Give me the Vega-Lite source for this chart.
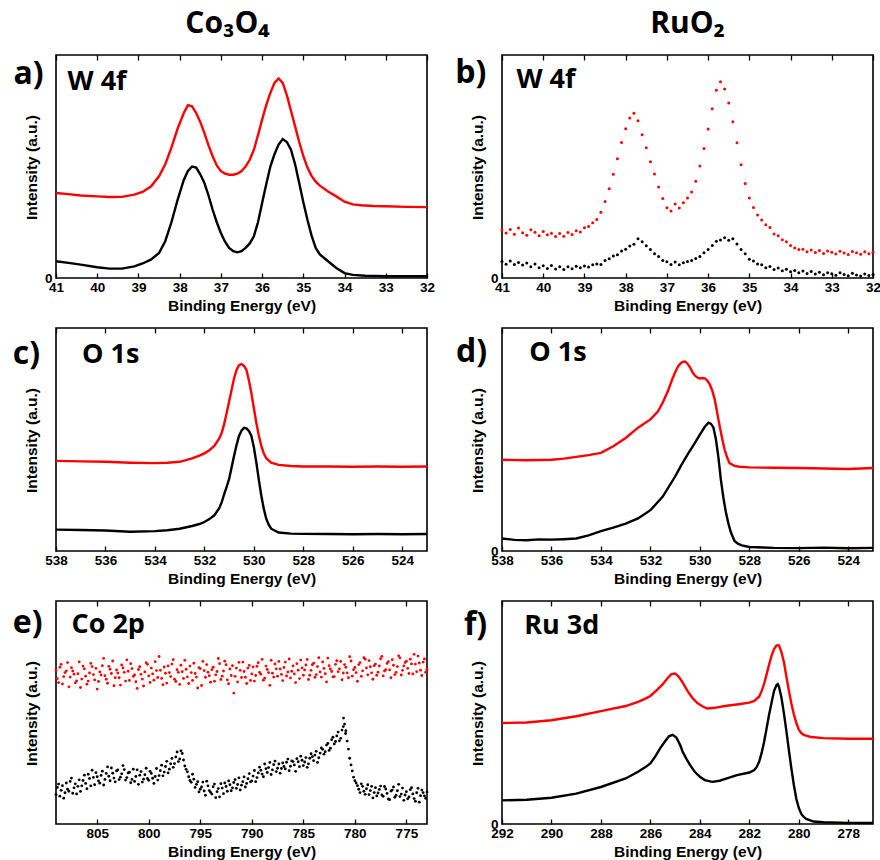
{
"$schema": "https://vega.github.io/schema/vega-lite/v6.json",
"background": "white",
"padding": {"left": 12, "top": 8, "right": 0, "bottom": 0},
"config": {
 "view": {"stroke": "#000", "strokeWidth": 1.6},
 "axis": {"grid": false, "domain": false, "labelFont": "Liberation Sans", "labelFontWeight": "bold", "labelFontSize": 13.5, "labelColor": "#000", "titleFont": "Liberation Sans", "titleFontWeight": "bold", "titleFontSize": 15.5, "titleColor": "#000", "tickColor": "#000", "tickWidth": 1.3, "labelFlush": false, "labelOverlap": false, "labelBound": false},
 "axisBottom": {"tickSize": -5, "labelPadding": 7, "titlePadding": 5},
 "axisTop": {"tickSize": -5, "labels": false},
 "axisLeft": {"ticks": false, "labelPadding": 4, "titleX": -17, "titleY": 112, "titleAngle": 270, "titleAlign": "center", "titleBaseline": "bottom"},
 "text": {"font": "Open Sans", "fontWeight": "bold", "color": "#000", "baseline": "alphabetic"}
},
"datasets": {
 "A": [
  {"s":"r","x":41.0,"y":38.1},{"s":"r","x":40.7,"y":37.6},{"s":"r","x":40.4,"y":37.0},{"s":"r","x":40.0,"y":36.6},{"s":"r","x":39.7,"y":36.3},{"s":"r","x":39.4,"y":36.4},{"s":"r","x":39.1,"y":37.4},{"s":"r","x":38.9,"y":38.6},{"s":"r","x":38.7,"y":41.0},{"s":"r","x":38.5,"y":45.6},{"s":"r","x":38.35,"y":51},{"s":"r","x":38.2,"y":58.5},{"s":"r","x":38.05,"y":67},{"s":"r","x":37.9,"y":74},{"s":"r","x":37.8,"y":77.5},{"s":"r","x":37.7,"y":77},{"s":"r","x":37.6,"y":74},{"s":"r","x":37.5,"y":70},{"s":"r","x":37.4,"y":65},{"s":"r","x":37.3,"y":59.5},{"s":"r","x":37.2,"y":54.6},{"s":"r","x":37.1,"y":50.5},{"s":"r","x":37.0,"y":47.9},{"s":"r","x":36.9,"y":46.8},{"s":"r","x":36.8,"y":46.3},{"s":"r","x":36.7,"y":46.3},{"s":"r","x":36.6,"y":46.8},{"s":"r","x":36.5,"y":48},{"s":"r","x":36.4,"y":50},{"s":"r","x":36.3,"y":53},{"s":"r","x":36.2,"y":57.5},{"s":"r","x":36.1,"y":64},{"s":"r","x":36.0,"y":71},{"s":"r","x":35.9,"y":77.5},{"s":"r","x":35.8,"y":83},{"s":"r","x":35.7,"y":87.5},{"s":"r","x":35.6,"y":89.5},{"s":"r","x":35.5,"y":87.5},{"s":"r","x":35.4,"y":82},{"s":"r","x":35.3,"y":75},{"s":"r","x":35.2,"y":68},{"s":"r","x":35.1,"y":61},{"s":"r","x":35.0,"y":54.6},{"s":"r","x":34.9,"y":49.5},{"s":"r","x":34.8,"y":45.8},{"s":"r","x":34.7,"y":43.2},{"s":"r","x":34.6,"y":41.4},{"s":"r","x":34.4,"y":38.8},{"s":"r","x":34.2,"y":36.6},{"s":"r","x":34.0,"y":34.2},{"s":"r","x":33.8,"y":33.0},{"s":"r","x":33.6,"y":32.6},{"s":"r","x":33.3,"y":32.3},{"s":"r","x":33.0,"y":32.2},{"s":"r","x":32.5,"y":31.9},{"s":"r","x":32.0,"y":31.8},
  {"s":"k","x":41.0,"y":7.5},{"s":"k","x":40.7,"y":6.8},{"s":"k","x":40.4,"y":6.0},{"s":"k","x":40.0,"y":4.8},{"s":"k","x":39.7,"y":4.2},{"s":"k","x":39.4,"y":4.2},{"s":"k","x":39.1,"y":5.2},{"s":"k","x":38.9,"y":6.5},{"s":"k","x":38.7,"y":8.2},{"s":"k","x":38.5,"y":11.2},{"s":"k","x":38.35,"y":16.5},{"s":"k","x":38.2,"y":25},{"s":"k","x":38.05,"y":35},{"s":"k","x":37.9,"y":44},{"s":"k","x":37.8,"y":48},{"s":"k","x":37.7,"y":50},{"s":"k","x":37.6,"y":49.5},{"s":"k","x":37.5,"y":46.5},{"s":"k","x":37.4,"y":42.6},{"s":"k","x":37.3,"y":37},{"s":"k","x":37.2,"y":30.6},{"s":"k","x":37.1,"y":25},{"s":"k","x":37.0,"y":20.2},{"s":"k","x":36.9,"y":16.3},{"s":"k","x":36.8,"y":13.5},{"s":"k","x":36.7,"y":12},{"s":"k","x":36.6,"y":11.5},{"s":"k","x":36.5,"y":12},{"s":"k","x":36.4,"y":13.5},{"s":"k","x":36.3,"y":15.5},{"s":"k","x":36.2,"y":18.7},{"s":"k","x":36.1,"y":25},{"s":"k","x":36.0,"y":33.6},{"s":"k","x":35.9,"y":42},{"s":"k","x":35.8,"y":50},{"s":"k","x":35.7,"y":55.5},{"s":"k","x":35.6,"y":59.8},{"s":"k","x":35.5,"y":62.3},{"s":"k","x":35.4,"y":61},{"s":"k","x":35.3,"y":57.5},{"s":"k","x":35.2,"y":51},{"s":"k","x":35.1,"y":42.6},{"s":"k","x":35.0,"y":34},{"s":"k","x":34.9,"y":26.1},{"s":"k","x":34.8,"y":19},{"s":"k","x":34.7,"y":13.5},{"s":"k","x":34.6,"y":10.6},{"s":"k","x":34.4,"y":7.5},{"s":"k","x":34.2,"y":4.5},{"s":"k","x":34.0,"y":2.2},{"s":"k","x":33.8,"y":1.4},{"s":"k","x":33.5,"y":1.0},{"s":"k","x":33.0,"y":0.8},{"s":"k","x":32.0,"y":0.8}
 ],
 "B": [
  {"s":"r","x":41.0,"y":21.5},{"s":"r","x":40.9,"y":20.2},{"s":"r","x":40.8,"y":21.8},{"s":"r","x":40.7,"y":19.6},{"s":"r","x":40.6,"y":22.4},{"s":"r","x":40.5,"y":20.3},{"s":"r","x":40.4,"y":19.2},{"s":"r","x":40.3,"y":21.6},{"s":"r","x":40.2,"y":20.5},{"s":"r","x":40.1,"y":18.9},{"s":"r","x":40.0,"y":20.8},{"s":"r","x":39.9,"y":19.4},{"s":"r","x":39.8,"y":20.1},{"s":"r","x":39.7,"y":18.6},{"s":"r","x":39.6,"y":19.9},{"s":"r","x":39.5,"y":18.7},{"s":"r","x":39.4,"y":20.4},{"s":"r","x":39.3,"y":19.5},{"s":"r","x":39.2,"y":21.2},{"s":"r","x":39.1,"y":20.6},{"s":"r","x":39.0,"y":22.5},{"s":"r","x":38.9,"y":23.1},{"s":"r","x":38.8,"y":24.8},{"s":"r","x":38.7,"y":26.2},{"s":"r","x":38.6,"y":29.5},{"s":"r","x":38.5,"y":34.3},{"s":"r","x":38.4,"y":40.0},{"s":"r","x":38.3,"y":46.5},{"s":"r","x":38.2,"y":53.5},{"s":"r","x":38.1,"y":60.8},{"s":"r","x":38.0,"y":66.9},{"s":"r","x":37.9,"y":71.8},{"s":"r","x":37.8,"y":73.9},{"s":"r","x":37.7,"y":70.5},{"s":"r","x":37.6,"y":64.2},{"s":"r","x":37.5,"y":58.4},{"s":"r","x":37.4,"y":52.1},{"s":"r","x":37.3,"y":46.6},{"s":"r","x":37.2,"y":40.8},{"s":"r","x":37.1,"y":35.6},{"s":"r","x":37.0,"y":31.5},{"s":"r","x":36.9,"y":30.1},{"s":"r","x":36.8,"y":33.2},{"s":"r","x":36.7,"y":31.4},{"s":"r","x":36.6,"y":33.8},{"s":"r","x":36.5,"y":35.9},{"s":"r","x":36.4,"y":38.6},{"s":"r","x":36.3,"y":43.4},{"s":"r","x":36.2,"y":50.2},{"s":"r","x":36.1,"y":58.1},{"s":"r","x":36.0,"y":66.8},{"s":"r","x":35.9,"y":75.9},{"s":"r","x":35.8,"y":84.2},{"s":"r","x":35.7,"y":88.0},{"s":"r","x":35.6,"y":84.8},{"s":"r","x":35.5,"y":78.5},{"s":"r","x":35.4,"y":70.1},{"s":"r","x":35.3,"y":60.6},{"s":"r","x":35.2,"y":50.8},{"s":"r","x":35.1,"y":42.4},{"s":"r","x":35.0,"y":35.9},{"s":"r","x":34.9,"y":31.6},{"s":"r","x":34.8,"y":28.3},{"s":"r","x":34.7,"y":26.0},{"s":"r","x":34.6,"y":23.9},{"s":"r","x":34.5,"y":22.6},{"s":"r","x":34.4,"y":19.7},{"s":"r","x":34.3,"y":18.9},{"s":"r","x":34.2,"y":17.1},{"s":"r","x":34.1,"y":16.2},{"s":"r","x":34.0,"y":14.6},{"s":"r","x":33.9,"y":13.5},{"s":"r","x":33.8,"y":12.8},{"s":"r","x":33.7,"y":12.9},{"s":"r","x":33.6,"y":11.8},{"s":"r","x":33.5,"y":12.6},{"s":"r","x":33.4,"y":11.4},{"s":"r","x":33.3,"y":12.3},{"s":"r","x":33.2,"y":11.0},{"s":"r","x":33.1,"y":12.1},{"s":"r","x":33.0,"y":11.5},{"s":"r","x":32.9,"y":10.8},{"s":"r","x":32.8,"y":12.0},{"s":"r","x":32.7,"y":11.2},{"s":"r","x":32.6,"y":10.5},{"s":"r","x":32.5,"y":11.9},{"s":"r","x":32.4,"y":11.3},{"s":"r","x":32.3,"y":10.7},{"s":"r","x":32.2,"y":11.8},{"s":"r","x":32.1,"y":10.9},{"s":"r","x":32.0,"y":11.6},
  {"s":"k","x":41.0,"y":7.4},{"s":"k","x":40.9,"y":6.2},{"s":"k","x":40.8,"y":7.6},{"s":"k","x":40.7,"y":6.0},{"s":"k","x":40.6,"y":6.9},{"s":"k","x":40.5,"y":5.8},{"s":"k","x":40.4,"y":6.7},{"s":"k","x":40.3,"y":5.1},{"s":"k","x":40.2,"y":6.3},{"s":"k","x":40.1,"y":4.6},{"s":"k","x":40.0,"y":5.5},{"s":"k","x":39.9,"y":4.3},{"s":"k","x":39.8,"y":5.6},{"s":"k","x":39.7,"y":4.0},{"s":"k","x":39.6,"y":5.1},{"s":"k","x":39.5,"y":3.8},{"s":"k","x":39.4,"y":5.0},{"s":"k","x":39.3,"y":4.2},{"s":"k","x":39.2,"y":5.3},{"s":"k","x":39.1,"y":4.6},{"s":"k","x":39.0,"y":5.4},{"s":"k","x":38.9,"y":4.9},{"s":"k","x":38.8,"y":5.9},{"s":"k","x":38.7,"y":6.3},{"s":"k","x":38.6,"y":6.1},{"s":"k","x":38.5,"y":7.8},{"s":"k","x":38.4,"y":8.6},{"s":"k","x":38.3,"y":9.9},{"s":"k","x":38.2,"y":10.4},{"s":"k","x":38.1,"y":12.1},{"s":"k","x":38.0,"y":12.9},{"s":"k","x":37.9,"y":14.3},{"s":"k","x":37.8,"y":15.1},{"s":"k","x":37.7,"y":17.6},{"s":"k","x":37.6,"y":16.2},{"s":"k","x":37.5,"y":14.5},{"s":"k","x":37.4,"y":12.8},{"s":"k","x":37.3,"y":10.9},{"s":"k","x":37.2,"y":9.6},{"s":"k","x":37.1,"y":7.8},{"s":"k","x":37.0,"y":7.3},{"s":"k","x":36.9,"y":6.1},{"s":"k","x":36.8,"y":7.2},{"s":"k","x":36.7,"y":5.9},{"s":"k","x":36.6,"y":6.8},{"s":"k","x":36.5,"y":7.4},{"s":"k","x":36.4,"y":7.9},{"s":"k","x":36.3,"y":8.8},{"s":"k","x":36.2,"y":9.6},{"s":"k","x":36.1,"y":11.3},{"s":"k","x":36.0,"y":12.8},{"s":"k","x":35.9,"y":14.6},{"s":"k","x":35.8,"y":16.5},{"s":"k","x":35.7,"y":17.0},{"s":"k","x":35.6,"y":18.1},{"s":"k","x":35.5,"y":16.9},{"s":"k","x":35.4,"y":17.6},{"s":"k","x":35.3,"y":15.2},{"s":"k","x":35.2,"y":12.8},{"s":"k","x":35.1,"y":10.9},{"s":"k","x":35.0,"y":8.4},{"s":"k","x":34.9,"y":7.6},{"s":"k","x":34.8,"y":6.3},{"s":"k","x":34.7,"y":5.9},{"s":"k","x":34.6,"y":4.6},{"s":"k","x":34.5,"y":5.2},{"s":"k","x":34.4,"y":3.8},{"s":"k","x":34.3,"y":4.5},{"s":"k","x":34.2,"y":3.2},{"s":"k","x":34.1,"y":3.9},{"s":"k","x":34.0,"y":2.8},{"s":"k","x":33.9,"y":3.4},{"s":"k","x":33.8,"y":2.3},{"s":"k","x":33.7,"y":3.1},{"s":"k","x":33.6,"y":2.0},{"s":"k","x":33.5,"y":2.9},{"s":"k","x":33.4,"y":1.8},{"s":"k","x":33.3,"y":2.6},{"s":"k","x":33.2,"y":1.5},{"s":"k","x":33.1,"y":2.4},{"s":"k","x":33.0,"y":1.9},{"s":"k","x":32.9,"y":1.2},{"s":"k","x":32.8,"y":2.3},{"s":"k","x":32.7,"y":1.6},{"s":"k","x":32.6,"y":1.0},{"s":"k","x":32.5,"y":2.1},{"s":"k","x":32.4,"y":1.4},{"s":"k","x":32.3,"y":0.9},{"s":"k","x":32.2,"y":1.8},{"s":"k","x":32.1,"y":1.1},{"s":"k","x":32.0,"y":1.6}
 ],
 "C": [
  {"s":"r","x":538,"y":40.4},{"s":"r","x":537,"y":40.2},{"s":"r","x":536,"y":40.0},{"s":"r","x":535,"y":39.6},{"s":"r","x":534,"y":39.4},{"s":"r","x":533.5,"y":39.6},{"s":"r","x":533,"y":40.0},{"s":"r","x":532.5,"y":41.5},{"s":"r","x":532.2,"y":42.8},{"s":"r","x":532.0,"y":43.8},{"s":"r","x":531.8,"y":45.2},{"s":"r","x":531.6,"y":47.1},{"s":"r","x":531.4,"y":50.5},{"s":"r","x":531.3,"y":53},{"s":"r","x":531.2,"y":57},{"s":"r","x":531.1,"y":61.9},{"s":"r","x":531.0,"y":67},{"s":"r","x":530.9,"y":72.3},{"s":"r","x":530.8,"y":77.5},{"s":"r","x":530.7,"y":81.2},{"s":"r","x":530.6,"y":83.3},{"s":"r","x":530.5,"y":83.8},{"s":"r","x":530.4,"y":83},{"s":"r","x":530.3,"y":81.2},{"s":"r","x":530.2,"y":76.5},{"s":"r","x":530.1,"y":70.8},{"s":"r","x":530.0,"y":64},{"s":"r","x":529.9,"y":57.5},{"s":"r","x":529.8,"y":51.8},{"s":"r","x":529.7,"y":47.1},{"s":"r","x":529.6,"y":43.8},{"s":"r","x":529.5,"y":41.6},{"s":"r","x":529.3,"y":39.6},{"s":"r","x":529.0,"y":38.6},{"s":"r","x":528.5,"y":38.1},{"s":"r","x":528,"y":37.9},{"s":"r","x":527,"y":37.9},{"s":"r","x":526,"y":37.8},{"s":"r","x":525,"y":37.9},{"s":"r","x":524,"y":37.8},{"s":"r","x":523,"y":37.9},
  {"s":"k","x":538,"y":9.6},{"s":"k","x":537,"y":9.4},{"s":"k","x":536,"y":9.2},{"s":"k","x":535,"y":8.6},{"s":"k","x":534,"y":8.9},{"s":"k","x":533.5,"y":9.3},{"s":"k","x":533,"y":10.0},{"s":"k","x":532.5,"y":11.2},{"s":"k","x":532.2,"y":12.1},{"s":"k","x":532.0,"y":13.0},{"s":"k","x":531.8,"y":14.3},{"s":"k","x":531.6,"y":16.0},{"s":"k","x":531.4,"y":19.2},{"s":"k","x":531.3,"y":21.9},{"s":"k","x":531.2,"y":25.5},{"s":"k","x":531.1,"y":28.8},{"s":"k","x":531.0,"y":32.3},{"s":"k","x":530.9,"y":37.5},{"s":"k","x":530.8,"y":42.7},{"s":"k","x":530.7,"y":47.5},{"s":"k","x":530.6,"y":51.6},{"s":"k","x":530.5,"y":54.0},{"s":"k","x":530.4,"y":55.2},{"s":"k","x":530.3,"y":55.0},{"s":"k","x":530.2,"y":53.8},{"s":"k","x":530.1,"y":51.6},{"s":"k","x":530.0,"y":46.5},{"s":"k","x":529.9,"y":39.7},{"s":"k","x":529.8,"y":32},{"s":"k","x":529.7,"y":24.9},{"s":"k","x":529.6,"y":19.0},{"s":"k","x":529.5,"y":14.5},{"s":"k","x":529.4,"y":11.8},{"s":"k","x":529.3,"y":10.0},{"s":"k","x":529.0,"y":8.3},{"s":"k","x":528.5,"y":7.8},{"s":"k","x":528,"y":7.7},{"s":"k","x":527,"y":7.6},{"s":"k","x":526,"y":7.5},{"s":"k","x":525,"y":7.6},{"s":"k","x":524,"y":7.5},{"s":"k","x":523,"y":7.6}
 ],
 "D": [
  {"s":"r","x":538,"y":40.9},{"s":"r","x":537,"y":40.7},{"s":"r","x":536,"y":40.9},{"s":"r","x":535.5,"y":41.4},{"s":"r","x":535,"y":42.2},{"s":"r","x":534.5,"y":43.0},{"s":"r","x":534,"y":44.0},{"s":"r","x":533.5,"y":47.0},{"s":"r","x":533,"y":50.7},{"s":"r","x":532.5,"y":55.3},{"s":"r","x":532,"y":59.0},{"s":"r","x":531.7,"y":62.5},{"s":"r","x":531.5,"y":66.6},{"s":"r","x":531.3,"y":71.5},{"s":"r","x":531.1,"y":77.5},{"s":"r","x":531.0,"y":80.1},{"s":"r","x":530.9,"y":82.5},{"s":"r","x":530.8,"y":83.9},{"s":"r","x":530.7,"y":84.8},{"s":"r","x":530.6,"y":85.0},{"s":"r","x":530.5,"y":84},{"s":"r","x":530.4,"y":82.4},{"s":"r","x":530.3,"y":80.2},{"s":"r","x":530.2,"y":78.6},{"s":"r","x":530.1,"y":77.8},{"s":"r","x":530.0,"y":77.4},{"s":"r","x":529.9,"y":77.6},{"s":"r","x":529.8,"y":77.4},{"s":"r","x":529.7,"y":76.4},{"s":"r","x":529.6,"y":74.8},{"s":"r","x":529.5,"y":72.0},{"s":"r","x":529.4,"y":68.0},{"s":"r","x":529.3,"y":62.0},{"s":"r","x":529.2,"y":56.0},{"s":"r","x":529.1,"y":50.5},{"s":"r","x":529.0,"y":45.5},{"s":"r","x":528.9,"y":42},{"s":"r","x":528.8,"y":39.4},{"s":"r","x":528.6,"y":38.2},{"s":"r","x":528.4,"y":37.8},{"s":"r","x":528,"y":37.5},{"s":"r","x":527,"y":37.3},{"s":"r","x":526,"y":37.2},{"s":"r","x":525,"y":37.0},{"s":"r","x":524,"y":36.8},{"s":"r","x":523,"y":37.2},
  {"s":"k","x":538,"y":5.6},{"s":"k","x":537.5,"y":5.0},{"s":"k","x":537,"y":4.8},{"s":"k","x":536.5,"y":5.2},{"s":"k","x":536,"y":5.1},{"s":"k","x":535.5,"y":5.3},{"s":"k","x":535,"y":5.6},{"s":"k","x":534.5,"y":7.0},{"s":"k","x":534,"y":8.9},{"s":"k","x":533.5,"y":10.5},{"s":"k","x":533,"y":12.3},{"s":"k","x":532.5,"y":14.6},{"s":"k","x":532,"y":18.3},{"s":"k","x":531.5,"y":24.4},{"s":"k","x":531,"y":33.4},{"s":"k","x":530.75,"y":38.5},{"s":"k","x":530.5,"y":43.2},{"s":"k","x":530.2,"y":48.5},{"s":"k","x":530.0,"y":52.2},{"s":"k","x":529.8,"y":55.7},{"s":"k","x":529.65,"y":57.5},{"s":"k","x":529.55,"y":57.0},{"s":"k","x":529.45,"y":55.3},{"s":"k","x":529.35,"y":50},{"s":"k","x":529.25,"y":42},{"s":"k","x":529.15,"y":31.9},{"s":"k","x":529.05,"y":24},{"s":"k","x":528.95,"y":17.5},{"s":"k","x":528.85,"y":12.5},{"s":"k","x":528.75,"y":8.5},{"s":"k","x":528.6,"y":4.5},{"s":"k","x":528.45,"y":3.2},{"s":"k","x":528.3,"y":2.5},{"s":"k","x":528,"y":1.8},{"s":"k","x":527,"y":1.4},{"s":"k","x":526,"y":1.3},{"s":"k","x":525,"y":1.5},{"s":"k","x":524,"y":1.2},{"s":"k","x":523,"y":1.4}
 ],
 "E": [
  {"s":"r","x":809,"y":68.9},{"s":"r","x":808.75,"y":63.4},{"s":"r","x":808.5,"y":71.6},{"s":"r","x":808.25,"y":66.1},{"s":"r","x":808,"y":68.7},{"s":"r","x":807.75,"y":61.5},{"s":"r","x":807.5,"y":70.1},{"s":"r","x":807.25,"y":67.2},{"s":"r","x":807,"y":64.2},{"s":"r","x":806.75,"y":72.7},{"s":"r","x":806.5,"y":65.0},{"s":"r","x":806.25,"y":69.6},{"s":"r","x":806,"y":62.7},{"s":"r","x":805.75,"y":67.7},{"s":"r","x":805.5,"y":70.6},{"s":"r","x":805.25,"y":64.6},{"s":"r","x":805,"y":60.5},{"s":"r","x":804.75,"y":68.2},{"s":"r","x":804.5,"y":71.0},{"s":"r","x":804.25,"y":66.5},{"s":"r","x":804,"y":63.1},{"s":"r","x":803.75,"y":69.4},{"s":"r","x":803.5,"y":73.1},{"s":"r","x":803.25,"y":65.6},{"s":"r","x":803,"y":67.7},{"s":"r","x":802.75,"y":62.3},{"s":"r","x":802.5,"y":70.0},{"s":"r","x":802.25,"y":64.1},{"s":"r","x":802,"y":68.5},{"s":"r","x":801.75,"y":71.9},{"s":"r","x":801.5,"y":66.2},{"s":"r","x":801.25,"y":63.8},{"s":"r","x":801,"y":69.3},{"s":"r","x":800.75,"y":67.1},{"s":"r","x":800.5,"y":61.9},{"s":"r","x":800.25,"y":72.3},{"s":"r","x":800,"y":66.4},{"s":"r","x":799.75,"y":69.9},{"s":"r","x":799.5,"y":64.5},{"s":"r","x":799.25,"y":68.8},{"s":"r","x":799,"y":75.1},{"s":"r","x":798.75,"y":65.3},{"s":"r","x":798.5,"y":70.4},{"s":"r","x":798.25,"y":63.2},{"s":"r","x":798,"y":67.9},{"s":"r","x":797.75,"y":71.7},{"s":"r","x":797.5,"y":64.9},{"s":"r","x":797.25,"y":69.2},{"s":"r","x":797,"y":62.6},{"s":"r","x":796.75,"y":68.3},{"s":"r","x":796.5,"y":73.4},{"s":"r","x":796.25,"y":66.0},{"s":"r","x":796,"y":70.8},{"s":"r","x":795.75,"y":64.4},{"s":"r","x":795.5,"y":67.5},{"s":"r","x":795.25,"y":61.0},{"s":"r","x":795,"y":69.7},{"s":"r","x":794.75,"y":72.9},{"s":"r","x":794.5,"y":65.8},{"s":"r","x":794.25,"y":68.1},{"s":"r","x":794,"y":63.6},{"s":"r","x":793.75,"y":70.3},{"s":"r","x":793.5,"y":66.9},{"s":"r","x":793.25,"y":74.2},{"s":"r","x":793,"y":64.8},{"s":"r","x":792.75,"y":68.6},{"s":"r","x":792.5,"y":71.4},{"s":"r","x":792.25,"y":62.9},{"s":"r","x":792,"y":66.6},{"s":"r","x":791.75,"y":58.7},{"s":"r","x":791.5,"y":69.9},{"s":"r","x":791.25,"y":72.5},{"s":"r","x":791,"y":65.7},{"s":"r","x":790.75,"y":68.4},{"s":"r","x":790.5,"y":63.0},{"s":"r","x":790.25,"y":71.1},{"s":"r","x":790,"y":67.3},{"s":"r","x":789.75,"y":64.1},{"s":"r","x":789.5,"y":70.7},{"s":"r","x":789.25,"y":68.0},{"s":"r","x":789,"y":73.8},{"s":"r","x":788.75,"y":65.4},{"s":"r","x":788.5,"y":69.3},{"s":"r","x":788.25,"y":62.2},{"s":"r","x":788,"y":67.6},{"s":"r","x":787.75,"y":71.8},{"s":"r","x":787.5,"y":66.3},{"s":"r","x":787.25,"y":69.5},{"s":"r","x":787,"y":64.3},{"s":"r","x":786.75,"y":72.6},{"s":"r","x":786.5,"y":68.2},{"s":"r","x":786.25,"y":65.5},{"s":"r","x":786,"y":70.9},{"s":"r","x":785.75,"y":63.4},{"s":"r","x":785.5,"y":69.0},{"s":"r","x":785.25,"y":73.5},{"s":"r","x":785,"y":66.7},{"s":"r","x":784.75,"y":71.3},{"s":"r","x":784.5,"y":64.8},{"s":"r","x":784.25,"y":68.9},{"s":"r","x":784,"y":72.1},{"s":"r","x":783.75,"y":67.0},{"s":"r","x":783.5,"y":74.6},{"s":"r","x":783.25,"y":65.9},{"s":"r","x":783,"y":69.8},{"s":"r","x":782.75,"y":63.7},{"s":"r","x":782.5,"y":71.0},{"s":"r","x":782.25,"y":68.4},{"s":"r","x":782,"y":66.1},{"s":"r","x":781.75,"y":73.2},{"s":"r","x":781.5,"y":69.6},{"s":"r","x":781.25,"y":64.7},{"s":"r","x":781,"y":71.5},{"s":"r","x":780.75,"y":67.8},{"s":"r","x":780.5,"y":75.0},{"s":"r","x":780.25,"y":66.3},{"s":"r","x":780,"y":70.2},{"s":"r","x":779.75,"y":64.0},{"s":"r","x":779.5,"y":72.4},{"s":"r","x":779.25,"y":68.7},{"s":"r","x":779,"y":73.9},{"s":"r","x":778.75,"y":66.9},{"s":"r","x":778.5,"y":70.5},{"s":"r","x":778.25,"y":64.9},{"s":"r","x":778,"y":71.7},{"s":"r","x":777.75,"y":68.1},{"s":"r","x":777.5,"y":74.1},{"s":"r","x":777.25,"y":66.4},{"s":"r","x":777,"y":69.2},{"s":"r","x":776.75,"y":72.8},{"s":"r","x":776.5,"y":65.6},{"s":"r","x":776.25,"y":71.2},{"s":"r","x":776,"y":68.0},{"s":"r","x":775.75,"y":75.4},{"s":"r","x":775.5,"y":66.8},{"s":"r","x":775.25,"y":70.9},{"s":"r","x":775,"y":73.0},{"s":"r","x":774.75,"y":67.5},{"s":"r","x":774.5,"y":71.8},{"s":"r","x":774.25,"y":76.1},{"s":"r","x":774,"y":68.3},{"s":"r","x":773.75,"y":72.2},{"s":"r","x":773.5,"y":66.6},{"s":"r","x":773.25,"y":74.0},{"s":"r","x":773,"y":69.4},
  {"s":"r","x":808.875,"y":65.2},{"s":"r","x":808.625,"y":70.3},{"s":"r","x":808.375,"y":62.8},{"s":"r","x":808.125,"y":67.9},{"s":"r","x":807.875,"y":72.4},{"s":"r","x":807.625,"y":65.9},{"s":"r","x":807.375,"y":68.6},{"s":"r","x":807.125,"y":63.3},{"s":"r","x":806.875,"y":67.4},{"s":"r","x":806.625,"y":61.2},{"s":"r","x":806.375,"y":70.8},{"s":"r","x":806.125,"y":66.3},{"s":"r","x":805.875,"y":64.1},{"s":"r","x":805.625,"y":72.0},{"s":"r","x":805.375,"y":67.0},{"s":"r","x":805.125,"y":69.8},{"s":"r","x":804.875,"y":63.9},{"s":"r","x":804.625,"y":66.8},{"s":"r","x":804.375,"y":74.3},{"s":"r","x":804.125,"y":64.9},{"s":"r","x":803.875,"y":70.7},{"s":"r","x":803.625,"y":67.5},{"s":"r","x":803.375,"y":62.0},{"s":"r","x":803.125,"y":69.1},{"s":"r","x":802.875,"y":65.6},{"s":"r","x":802.625,"y":71.3},{"s":"r","x":802.375,"y":68.0},{"s":"r","x":802.125,"y":73.6},{"s":"r","x":801.875,"y":64.4},{"s":"r","x":801.625,"y":69.7},{"s":"r","x":801.375,"y":66.9},{"s":"r","x":801.125,"y":60.8},{"s":"r","x":800.875,"y":70.5},{"s":"r","x":800.625,"y":65.0},{"s":"r","x":800.375,"y":68.2},{"s":"r","x":800.125,"y":71.6},{"s":"r","x":799.875,"y":63.5},{"s":"r","x":799.625,"y":67.3},{"s":"r","x":799.375,"y":72.8},{"s":"r","x":799.125,"y":65.7},{"s":"r","x":798.875,"y":68.9},{"s":"r","x":798.625,"y":62.5},{"s":"r","x":798.375,"y":67.6},{"s":"r","x":798.125,"y":70.9},{"s":"r","x":797.875,"y":66.1},{"s":"r","x":797.625,"y":73.7},{"s":"r","x":797.375,"y":63.9},{"s":"r","x":797.125,"y":68.0},{"s":"r","x":796.875,"y":71.2},{"s":"r","x":796.625,"y":65.3},{"s":"r","x":796.375,"y":69.4},{"s":"r","x":796.125,"y":63.0},{"s":"r","x":795.875,"y":67.9},{"s":"r","x":795.625,"y":72.1},{"s":"r","x":795.375,"y":65.9},{"s":"r","x":795.125,"y":70.1},{"s":"r","x":794.875,"y":62.1},{"s":"r","x":794.625,"y":68.8},{"s":"r","x":794.375,"y":71.5},{"s":"r","x":794.125,"y":66.5},{"s":"r","x":793.875,"y":69.2},{"s":"r","x":793.625,"y":64.0},{"s":"r","x":793.375,"y":68.4},{"s":"r","x":793.125,"y":71.9},{"s":"r","x":792.875,"y":66.3},{"s":"r","x":792.625,"y":73.0},{"s":"r","x":792.375,"y":64.6},{"s":"r","x":792.125,"y":69.5},{"s":"r","x":791.875,"y":71.0},{"s":"r","x":791.625,"y":66.2},{"s":"r","x":791.375,"y":63.7},{"s":"r","x":791.125,"y":68.9},{"s":"r","x":790.875,"y":72.6},{"s":"r","x":790.625,"y":65.8},{"s":"r","x":790.375,"y":69.9},{"s":"r","x":790.125,"y":64.4},{"s":"r","x":789.875,"y":70.4},{"s":"r","x":789.625,"y":66.6},{"s":"r","x":789.375,"y":72.3},{"s":"r","x":789.125,"y":67.2},{"s":"r","x":788.875,"y":64.5},{"s":"r","x":788.625,"y":70.8},{"s":"r","x":788.375,"y":67.9},{"s":"r","x":788.125,"y":73.4},{"s":"r","x":787.875,"y":65.9},{"s":"r","x":787.625,"y":69.6},{"s":"r","x":787.375,"y":72.9},{"s":"r","x":787.125,"y":67.1},{"s":"r","x":786.875,"y":70.2},{"s":"r","x":786.625,"y":66.4},{"s":"r","x":786.375,"y":74.0},{"s":"r","x":786.125,"y":68.5},{"s":"r","x":785.875,"y":67.3},{"s":"r","x":785.625,"y":71.9},{"s":"r","x":785.375,"y":65.2},{"s":"r","x":785.125,"y":70.0},{"s":"r","x":784.875,"y":69.1},{"s":"r","x":784.625,"y":73.8},{"s":"r","x":784.375,"y":66.7},{"s":"r","x":784.125,"y":71.4},{"s":"r","x":783.875,"y":65.8},{"s":"r","x":783.625,"y":70.6},{"s":"r","x":783.375,"y":68.2},{"s":"r","x":783.125,"y":72.7},{"s":"r","x":782.875,"y":67.4},{"s":"r","x":782.625,"y":74.4},{"s":"r","x":782.375,"y":69.5},{"s":"r","x":782.125,"y":66.0},{"s":"r","x":781.875,"y":71.6},{"s":"r","x":781.625,"y":68.3},{"s":"r","x":781.375,"y":72.9},{"s":"r","x":781.125,"y":67.7},{"s":"r","x":780.875,"y":70.3},{"s":"r","x":780.625,"y":65.6},{"s":"r","x":780.375,"y":73.1},{"s":"r","x":780.125,"y":69.2},{"s":"r","x":779.875,"y":67.9},{"s":"r","x":779.625,"y":71.5},{"s":"r","x":779.375,"y":66.2},{"s":"r","x":779.125,"y":74.6},{"s":"r","x":778.875,"y":70.0},{"s":"r","x":778.625,"y":73.3},{"s":"r","x":778.375,"y":67.8},{"s":"r","x":778.125,"y":71.0},{"s":"r","x":777.875,"y":66.7},{"s":"r","x":777.625,"y":70.9},{"s":"r","x":777.375,"y":75.2},{"s":"r","x":777.125,"y":68.6},{"s":"r","x":776.875,"y":72.0},{"s":"r","x":776.625,"y":69.1},{"s":"r","x":776.375,"y":73.7},{"s":"r","x":776.125,"y":67.0},{"s":"r","x":775.875,"y":70.6},{"s":"r","x":775.625,"y":74.5},{"s":"r","x":775.375,"y":68.9},{"s":"r","x":775.125,"y":72.4},{"s":"r","x":774.875,"y":69.8},{"s":"r","x":774.625,"y":73.9},{"s":"r","x":774.375,"y":67.3},{"s":"r","x":774.125,"y":71.7},{"s":"r","x":773.875,"y":75.3},{"s":"r","x":773.625,"y":69.0},{"s":"r","x":773.375,"y":72.6},{"s":"r","x":773.125,"y":68.1},
  {"s":"k","x":809,"y":13.2},{"s":"k","x":808.75,"y":17.9},{"s":"k","x":808.5,"y":15.1},{"s":"k","x":808.25,"y":11.6},{"s":"k","x":808,"y":18.4},{"s":"k","x":807.75,"y":14.7},{"s":"k","x":807.5,"y":20.6},{"s":"k","x":807.25,"y":16.2},{"s":"k","x":807,"y":13.5},{"s":"k","x":806.75,"y":19.8},{"s":"k","x":806.5,"y":17.1},{"s":"k","x":806.25,"y":21.9},{"s":"k","x":806,"y":15.8},{"s":"k","x":805.75,"y":20.4},{"s":"k","x":805.5,"y":24.1},{"s":"k","x":805.25,"y":17.6},{"s":"k","x":805,"y":21.2},{"s":"k","x":804.75,"y":18.3},{"s":"k","x":804.5,"y":23.7},{"s":"k","x":804.25,"y":20.0},{"s":"k","x":804,"y":25.6},{"s":"k","x":803.75,"y":19.4},{"s":"k","x":803.5,"y":22.8},{"s":"k","x":803.25,"y":18.9},{"s":"k","x":803,"y":24.3},{"s":"k","x":802.75,"y":21.0},{"s":"k","x":802.5,"y":26.2},{"s":"k","x":802.25,"y":19.7},{"s":"k","x":802,"y":22.9},{"s":"k","x":801.75,"y":18.5},{"s":"k","x":801.5,"y":24.6},{"s":"k","x":801.25,"y":21.3},{"s":"k","x":801,"y":17.8},{"s":"k","x":800.75,"y":23.5},{"s":"k","x":800.5,"y":20.1},{"s":"k","x":800.25,"y":25.0},{"s":"k","x":800,"y":19.6},{"s":"k","x":799.75,"y":22.7},{"s":"k","x":799.5,"y":18.2},{"s":"k","x":799.25,"y":24.9},{"s":"k","x":799,"y":21.7},{"s":"k","x":798.75,"y":26.4},{"s":"k","x":798.5,"y":23.3},{"s":"k","x":798.25,"y":28.1},{"s":"k","x":798,"y":24.6},{"s":"k","x":797.75,"y":29.4},{"s":"k","x":797.5,"y":27.1},{"s":"k","x":797.25,"y":32.3},{"s":"k","x":797,"y":29.2},{"s":"k","x":796.75,"y":31.6},{"s":"k","x":796.5,"y":26.0},{"s":"k","x":796.25,"y":23.4},{"s":"k","x":796,"y":19.5},{"s":"k","x":795.75,"y":22.3},{"s":"k","x":795.5,"y":16.4},{"s":"k","x":795.25,"y":19.0},{"s":"k","x":795,"y":15.6},{"s":"k","x":794.75,"y":18.8},{"s":"k","x":794.5,"y":12.9},{"s":"k","x":794.25,"y":17.1},{"s":"k","x":794,"y":14.2},{"s":"k","x":793.75,"y":16.7},{"s":"k","x":793.5,"y":11.8},{"s":"k","x":793.25,"y":15.9},{"s":"k","x":793,"y":18.1},{"s":"k","x":792.75,"y":13.6},{"s":"k","x":792.5,"y":16.8},{"s":"k","x":792.25,"y":19.3},{"s":"k","x":792,"y":14.9},{"s":"k","x":791.75,"y":18.6},{"s":"k","x":791.5,"y":16.0},{"s":"k","x":791.25,"y":20.7},{"s":"k","x":791,"y":17.4},{"s":"k","x":790.75,"y":21.1},{"s":"k","x":790.5,"y":18.2},{"s":"k","x":790.25,"y":22.6},{"s":"k","x":790,"y":19.3},{"s":"k","x":789.75,"y":24.0},{"s":"k","x":789.5,"y":20.8},{"s":"k","x":789.25,"y":25.5},{"s":"k","x":789,"y":22.4},{"s":"k","x":788.75,"y":26.9},{"s":"k","x":788.5,"y":23.1},{"s":"k","x":788.25,"y":27.6},{"s":"k","x":788,"y":24.3},{"s":"k","x":787.75,"y":28.2},{"s":"k","x":787.5,"y":25.0},{"s":"k","x":787.25,"y":22.8},{"s":"k","x":787,"y":27.4},{"s":"k","x":786.75,"y":24.7},{"s":"k","x":786.5,"y":29.1},{"s":"k","x":786.25,"y":25.9},{"s":"k","x":786,"y":28.0},{"s":"k","x":785.75,"y":23.6},{"s":"k","x":785.5,"y":27.9},{"s":"k","x":785.25,"y":30.4},{"s":"k","x":785,"y":26.2},{"s":"k","x":784.75,"y":29.8},{"s":"k","x":784.5,"y":27.0},{"s":"k","x":784.25,"y":31.5},{"s":"k","x":784,"y":28.4},{"s":"k","x":783.75,"y":32.6},{"s":"k","x":783.5,"y":29.7},{"s":"k","x":783.25,"y":34.1},{"s":"k","x":783,"y":31.3},{"s":"k","x":782.75,"y":35.4},{"s":"k","x":782.5,"y":33.0},{"s":"k","x":782.25,"y":37.8},{"s":"k","x":782,"y":35.9},{"s":"k","x":781.75,"y":39.5},{"s":"k","x":781.5,"y":37.3},{"s":"k","x":781.25,"y":42.1},{"s":"k","x":781.1,"y":47.5},{"s":"k","x":781,"y":44.8},{"s":"k","x":780.9,"y":40.6},{"s":"k","x":780.75,"y":37.2},{"s":"k","x":780.5,"y":29.5},{"s":"k","x":780.25,"y":23.8},{"s":"k","x":780,"y":19.4},{"s":"k","x":779.75,"y":17.2},{"s":"k","x":779.5,"y":14.1},{"s":"k","x":779.25,"y":16.9},{"s":"k","x":779,"y":13.3},{"s":"k","x":778.75,"y":17.6},{"s":"k","x":778.5,"y":15.0},{"s":"k","x":778.25,"y":11.7},{"s":"k","x":778,"y":16.3},{"s":"k","x":777.75,"y":13.9},{"s":"k","x":777.5,"y":17.0},{"s":"k","x":777.25,"y":12.4},{"s":"k","x":777,"y":15.7},{"s":"k","x":776.75,"y":11.2},{"s":"k","x":776.5,"y":14.8},{"s":"k","x":776.25,"y":16.6},{"s":"k","x":776,"y":12.9},{"s":"k","x":775.75,"y":17.8},{"s":"k","x":775.5,"y":13.4},{"s":"k","x":775.25,"y":10.6},{"s":"k","x":775,"y":14.5},{"s":"k","x":774.75,"y":12.1},{"s":"k","x":774.5,"y":16.3},{"s":"k","x":774.25,"y":11.4},{"s":"k","x":774,"y":14.0},{"s":"k","x":773.75,"y":9.8},{"s":"k","x":773.5,"y":15.2},{"s":"k","x":773.25,"y":12.6},{"s":"k","x":773,"y":14.4},
  {"s":"k","x":808.875,"y":16.4},{"s":"k","x":808.625,"y":12.5},{"s":"k","x":808.375,"y":17.2},{"s":"k","x":808.125,"y":14.0},{"s":"k","x":807.875,"y":15.6},{"s":"k","x":807.625,"y":19.1},{"s":"k","x":807.375,"y":13.8},{"s":"k","x":807.125,"y":18.0},{"s":"k","x":806.875,"y":16.9},{"s":"k","x":806.625,"y":14.6},{"s":"k","x":806.375,"y":19.5},{"s":"k","x":806.125,"y":18.2},{"s":"k","x":805.875,"y":22.3},{"s":"k","x":805.625,"y":17.1},{"s":"k","x":805.375,"y":20.9},{"s":"k","x":805.125,"y":23.0},{"s":"k","x":804.875,"y":19.3},{"s":"k","x":804.625,"y":21.8},{"s":"k","x":804.375,"y":17.5},{"s":"k","x":804.125,"y":22.7},{"s":"k","x":803.875,"y":21.4},{"s":"k","x":803.625,"y":25.1},{"s":"k","x":803.375,"y":20.6},{"s":"k","x":803.125,"y":23.8},{"s":"k","x":802.875,"y":19.9},{"s":"k","x":802.625,"y":22.5},{"s":"k","x":802.375,"y":24.4},{"s":"k","x":802.125,"y":20.8},{"s":"k","x":801.875,"y":23.2},{"s":"k","x":801.625,"y":20.0},{"s":"k","x":801.375,"y":19.1},{"s":"k","x":801.125,"y":24.3},{"s":"k","x":800.875,"y":21.9},{"s":"k","x":800.625,"y":18.8},{"s":"k","x":800.375,"y":22.1},{"s":"k","x":800.125,"y":20.4},{"s":"k","x":799.875,"y":23.6},{"s":"k","x":799.625,"y":20.5},{"s":"k","x":799.375,"y":21.3},{"s":"k","x":799.125,"y":19.7},{"s":"k","x":798.875,"y":23.9},{"s":"k","x":798.625,"y":21.6},{"s":"k","x":798.375,"y":25.8},{"s":"k","x":798.125,"y":22.9},{"s":"k","x":797.875,"y":27.0},{"s":"k","x":797.625,"y":25.4},{"s":"k","x":797.375,"y":30.1},{"s":"k","x":797.125,"y":28.0},{"s":"k","x":796.875,"y":32.8},{"s":"k","x":796.625,"y":28.7},{"s":"k","x":796.375,"y":24.5},{"s":"k","x":796.125,"y":21.2},{"s":"k","x":795.875,"y":18.7},{"s":"k","x":795.625,"y":20.1},{"s":"k","x":795.375,"y":17.8},{"s":"k","x":795.125,"y":14.4},{"s":"k","x":794.875,"y":16.6},{"s":"k","x":794.625,"y":14.8},{"s":"k","x":794.375,"y":19.2},{"s":"k","x":794.125,"y":15.0},{"s":"k","x":793.875,"y":13.4},{"s":"k","x":793.625,"y":17.9},{"s":"k","x":793.375,"y":14.5},{"s":"k","x":793.125,"y":12.2},{"s":"k","x":792.875,"y":16.1},{"s":"k","x":792.625,"y":18.4},{"s":"k","x":792.375,"y":14.7},{"s":"k","x":792.125,"y":17.6},{"s":"k","x":791.875,"y":16.2},{"s":"k","x":791.625,"y":19.9},{"s":"k","x":791.375,"y":17.7},{"s":"k","x":791.125,"y":15.3},{"s":"k","x":790.875,"y":19.0},{"s":"k","x":790.625,"y":16.6},{"s":"k","x":790.375,"y":20.3},{"s":"k","x":790.125,"y":18.9},{"s":"k","x":789.875,"y":21.5},{"s":"k","x":789.625,"y":19.0},{"s":"k","x":789.375,"y":22.9},{"s":"k","x":789.125,"y":24.1},{"s":"k","x":788.875,"y":21.2},{"s":"k","x":788.625,"y":24.8},{"s":"k","x":788.375,"y":25.3},{"s":"k","x":788.125,"y":22.2},{"s":"k","x":787.875,"y":26.6},{"s":"k","x":787.625,"y":23.5},{"s":"k","x":787.375,"y":26.9},{"s":"k","x":787.125,"y":24.9},{"s":"k","x":786.875,"y":25.8},{"s":"k","x":786.625,"y":27.7},{"s":"k","x":786.375,"y":23.9},{"s":"k","x":786.125,"y":28.3},{"s":"k","x":785.875,"y":26.5},{"s":"k","x":785.625,"y":29.3},{"s":"k","x":785.375,"y":25.7},{"s":"k","x":785.125,"y":28.6},{"s":"k","x":784.875,"y":27.8},{"s":"k","x":784.625,"y":25.4},{"s":"k","x":784.375,"y":29.5},{"s":"k","x":784.125,"y":30.2},{"s":"k","x":783.875,"y":30.9},{"s":"k","x":783.625,"y":27.6},{"s":"k","x":783.375,"y":31.8},{"s":"k","x":783.125,"y":33.5},{"s":"k","x":782.875,"y":32.4},{"s":"k","x":782.625,"y":36.1},{"s":"k","x":782.375,"y":34.0},{"s":"k","x":782.125,"y":38.9},{"s":"k","x":781.875,"y":37.0},{"s":"k","x":781.625,"y":41.2},{"s":"k","x":781.375,"y":38.4},{"s":"k","x":781.125,"y":43.7},{"s":"k","x":780.875,"y":41.8},{"s":"k","x":780.625,"y":33.6},{"s":"k","x":780.375,"y":26.5},{"s":"k","x":780.125,"y":21.0},{"s":"k","x":779.875,"y":18.4},{"s":"k","x":779.625,"y":15.6},{"s":"k","x":779.375,"y":18.0},{"s":"k","x":779.125,"y":14.7},{"s":"k","x":778.875,"y":15.8},{"s":"k","x":778.625,"y":13.2},{"s":"k","x":778.375,"y":16.9},{"s":"k","x":778.125,"y":14.1},{"s":"k","x":777.875,"y":12.6},{"s":"k","x":777.625,"y":15.5},{"s":"k","x":777.375,"y":13.0},{"s":"k","x":777.125,"y":16.8},{"s":"k","x":776.875,"y":13.7},{"s":"k","x":776.625,"y":10.9},{"s":"k","x":776.375,"y":15.2},{"s":"k","x":776.125,"y":12.0},{"s":"k","x":775.875,"y":14.9},{"s":"k","x":775.625,"y":12.3},{"s":"k","x":775.375,"y":16.1},{"s":"k","x":775.125,"y":13.0},{"s":"k","x":774.875,"y":11.3},{"s":"k","x":774.625,"y":15.4},{"s":"k","x":774.375,"y":13.5},{"s":"k","x":774.125,"y":10.2},{"s":"k","x":773.875,"y":16.0},{"s":"k","x":773.625,"y":12.7},{"s":"k","x":773.375,"y":14.1},{"s":"k","x":773.125,"y":11.5}
 ],
 "F": [
  {"s":"r","x":292,"y":45.3},{"s":"r","x":291,"y":45.5},{"s":"r","x":290,"y":46.5},{"s":"r","x":289,"y":48.3},{"s":"r","x":288,"y":50.6},{"s":"r","x":287,"y":52.9},{"s":"r","x":286.5,"y":54.8},{"s":"r","x":286.2,"y":56.2},{"s":"r","x":286,"y":57.4},{"s":"r","x":285.7,"y":60.5},{"s":"r","x":285.5,"y":62.7},{"s":"r","x":285.3,"y":65.5},{"s":"r","x":285.15,"y":67.2},{"s":"r","x":285.0,"y":67.5},{"s":"r","x":284.85,"y":66},{"s":"r","x":284.7,"y":63.5},{"s":"r","x":284.5,"y":59.7},{"s":"r","x":284.3,"y":56.5},{"s":"r","x":284.1,"y":54.2},{"s":"r","x":283.9,"y":52.8},{"s":"r","x":283.7,"y":51.8},{"s":"r","x":283.4,"y":52.1},{"s":"r","x":283,"y":52.9},{"s":"r","x":282.5,"y":53.6},{"s":"r","x":282,"y":54.4},{"s":"r","x":281.8,"y":55.2},{"s":"r","x":281.6,"y":57.2},{"s":"r","x":281.5,"y":59.7},{"s":"r","x":281.4,"y":63},{"s":"r","x":281.3,"y":67.2},{"s":"r","x":281.2,"y":71.5},{"s":"r","x":281.1,"y":75.5},{"s":"r","x":281.0,"y":78.5},{"s":"r","x":280.9,"y":80.1},{"s":"r","x":280.8,"y":80.1},{"s":"r","x":280.7,"y":77},{"s":"r","x":280.6,"y":72.5},{"s":"r","x":280.5,"y":66},{"s":"r","x":280.4,"y":59.7},{"s":"r","x":280.3,"y":54},{"s":"r","x":280.2,"y":49.1},{"s":"r","x":280.1,"y":45.3},{"s":"r","x":280.0,"y":42.3},{"s":"r","x":279.9,"y":40.8},{"s":"r","x":279.8,"y":40.0},{"s":"r","x":279.5,"y":39.0},{"s":"r","x":279,"y":38.5},{"s":"r","x":278,"y":38.2},{"s":"r","x":277,"y":38.2},
  {"s":"k","x":292,"y":10.6},{"s":"k","x":291,"y":10.9},{"s":"k","x":290,"y":11.8},{"s":"k","x":289,"y":13.6},{"s":"k","x":288,"y":16.6},{"s":"k","x":287,"y":20.4},{"s":"k","x":286.5,"y":23.4},{"s":"k","x":286.2,"y":25.5},{"s":"k","x":286,"y":27.2},{"s":"k","x":285.8,"y":30.3},{"s":"k","x":285.6,"y":34},{"s":"k","x":285.4,"y":37.2},{"s":"k","x":285.25,"y":39.3},{"s":"k","x":285.1,"y":40},{"s":"k","x":284.95,"y":38.8},{"s":"k","x":284.8,"y":35.5},{"s":"k","x":284.7,"y":32.5},{"s":"k","x":284.55,"y":29.3},{"s":"k","x":284.4,"y":26.5},{"s":"k","x":284.2,"y":23.3},{"s":"k","x":284.0,"y":21.2},{"s":"k","x":283.8,"y":19.7},{"s":"k","x":283.5,"y":18.9},{"s":"k","x":283.2,"y":19.4},{"s":"k","x":283,"y":20.1},{"s":"k","x":282.5,"y":21.9},{"s":"k","x":282,"y":23.1},{"s":"k","x":281.8,"y":24.2},{"s":"k","x":281.7,"y":25.6},{"s":"k","x":281.6,"y":28},{"s":"k","x":281.5,"y":32},{"s":"k","x":281.4,"y":37},{"s":"k","x":281.3,"y":43},{"s":"k","x":281.2,"y":49.1},{"s":"k","x":281.1,"y":54.5},{"s":"k","x":281.0,"y":59.7},{"s":"k","x":280.9,"y":62.3},{"s":"k","x":280.85,"y":62.7},{"s":"k","x":280.8,"y":61.5},{"s":"k","x":280.7,"y":56.6},{"s":"k","x":280.6,"y":49.5},{"s":"k","x":280.5,"y":41.5},{"s":"k","x":280.4,"y":33},{"s":"k","x":280.3,"y":24.9},{"s":"k","x":280.2,"y":17.5},{"s":"k","x":280.1,"y":11.3},{"s":"k","x":280.0,"y":7.2},{"s":"k","x":279.9,"y":4.5},{"s":"k","x":279.8,"y":3.2},{"s":"k","x":279.7,"y":2.3},{"s":"k","x":279.4,"y":1.1},{"s":"k","x":279,"y":0.8},{"s":"k","x":278,"y":0.5},{"s":"k","x":277,"y":0.5}
 ]
},
"spacing": 18,
"hconcat": [
 {
  "title": {"text": "Co₃O₄", "anchor": "middle", "frame": "group", "font": "Open Sans", "fontWeight": "bold", "fontSize": 30, "color": "#000", "baseline": "alphabetic", "offset": -9, "dx": 171.5},
  "spacing": 50,
  "bounds": "flush",
  "vconcat": [
   {
    "width": 371, "height": 223,
    "resolve": {"axis": {"x": "independent"}},
    "layer": [
     {"data": {"name": "A"}, "mark": {"type": "line", "strokeWidth": 2.4},
      "encoding": {
       "x": {"field": "x", "type": "quantitative", "scale": {"domain": [41, 32], "nice": false, "zero": false}, "axis": {"orient": "bottom", "values": [41,40,39,38,37,36,35,34,33,32], "format": "d", "title": "Binding Energy (eV)"}},
       "y": {"field": "y", "type": "quantitative", "scale": {"domain": [0, 100], "nice": false}, "axis": {"values": [0], "title": "Intensity (a.u.)"}},
       "color": {"field": "s", "type": "nominal", "scale": {"domain": ["r","k"], "range": ["#ff0000","#000000"]}, "legend": null}
      }},
     {"data": {"values": [{"t": "W 4f"}]}, "mark": {"type": "text", "align": "left", "fontSize": 27},
      "encoding": {
       "x": {"datum": 40.72, "type": "quantitative", "axis": {"orient": "top", "values": [41,40,39,38,37,36,35,34,33,32], "title": null}},
       "y": {"datum": 84.5, "type": "quantitative", "axis": {"values": [0], "title": "Intensity (a.u.)"}},
       "text": {"field": "t"}
      }},
     {"data": {"values": [{"t": "a)"}]}, "mark": {"type": "text", "align": "right", "fontSize": 32},
      "encoding": {
       "x": {"datum": 41.3, "type": "quantitative", "axis": null},
       "y": {"datum": 86.8, "type": "quantitative", "axis": {"values": [0], "title": "Intensity (a.u.)"}},
       "text": {"field": "t"}
      }}
    ]
   },
   {
    "width": 371, "height": 223,
    "resolve": {"axis": {"x": "independent"}},
    "layer": [
     {"data": {"name": "C"}, "mark": {"type": "line", "strokeWidth": 2.4},
      "encoding": {
       "x": {"field": "x", "type": "quantitative", "scale": {"domain": [538, 523], "nice": false, "zero": false}, "axis": {"orient": "bottom", "values": [538,536,534,532,530,528,526,524], "format": "d", "title": "Binding Energy (eV)"}},
       "y": {"field": "y", "type": "quantitative", "scale": {"domain": [0, 100], "nice": false}, "axis": {"values": [0], "labels": false, "title": "Intensity (a.u.)"}},
       "color": {"field": "s", "type": "nominal", "scale": {"domain": ["r","k"], "range": ["#ff0000","#000000"]}, "legend": null}
      }},
     {"data": {"values": [{"t": "O 1s"}]}, "mark": {"type": "text", "align": "left", "fontSize": 27},
      "encoding": {
       "x": {"datum": 536.95, "type": "quantitative", "axis": {"orient": "top", "values": [538,536,534,532,530,528,526,524], "title": null}},
       "y": {"datum": 84.4, "type": "quantitative", "axis": {"values": [0], "labels": false, "title": "Intensity (a.u.)"}},
       "text": {"field": "t"}
      }},
     {"data": {"values": [{"t": "c)"}]}, "mark": {"type": "text", "align": "right", "fontSize": 32},
      "encoding": {
       "x": {"datum": 538.64, "type": "quantitative", "axis": null},
       "y": {"datum": 83.8, "type": "quantitative", "axis": {"values": [0], "labels": false, "title": "Intensity (a.u.)"}},
       "text": {"field": "t"}
      }}
    ]
   },
   {
    "width": 371, "height": 223,
    "resolve": {"axis": {"x": "independent"}},
    "layer": [
     {"data": {"name": "E"}, "mark": {"type": "circle", "size": 8, "opacity": 1},
      "encoding": {
       "x": {"field": "x", "type": "quantitative", "scale": {"domain": [809, 773], "nice": false, "zero": false}, "axis": {"orient": "bottom", "values": [805,800,795,790,785,780,775], "format": "d", "title": "Binding Energy (eV)"}},
       "y": {"field": "y", "type": "quantitative", "scale": {"domain": [0, 100], "nice": false}, "axis": {"values": [0], "labels": false, "title": "Intensity (a.u.)"}},
       "color": {"field": "s", "type": "nominal", "scale": {"domain": ["r","k"], "range": ["#ff0000","#000000"]}, "legend": null}
      }},
     {"data": {"values": [{"t": "Co 2p"}]}, "mark": {"type": "text", "align": "left", "fontSize": 27},
      "encoding": {
       "x": {"datum": 807.5, "type": "quantitative", "axis": {"orient": "top", "values": [805,800,795,790,785,780,775], "title": null}},
       "y": {"datum": 85.6, "type": "quantitative", "axis": {"values": [0], "labels": false, "title": "Intensity (a.u.)"}},
       "text": {"field": "t"}
      }},
     {"data": {"values": [{"t": "e)"}]}, "mark": {"type": "text", "align": "right", "fontSize": 32},
      "encoding": {
       "x": {"datum": 810.3, "type": "quantitative", "axis": null},
       "y": {"datum": 85.6, "type": "quantitative", "axis": {"values": [0], "labels": false, "title": "Intensity (a.u.)"}},
       "text": {"field": "t"}
      }}
    ]
   }
  ]
 },
 {
  "title": {"text": "RuO₂", "anchor": "middle", "frame": "group", "font": "Open Sans", "fontWeight": "bold", "fontSize": 30, "color": "#000", "baseline": "alphabetic", "offset": -9, "dx": 185.5},
  "spacing": 50,
  "bounds": "flush",
  "vconcat": [
   {
    "width": 371, "height": 223,
    "resolve": {"axis": {"x": "independent"}},
    "layer": [
     {"data": {"name": "B"}, "mark": {"type": "circle", "size": 9, "opacity": 1},
      "encoding": {
       "x": {"field": "x", "type": "quantitative", "scale": {"domain": [41, 32], "nice": false, "zero": false}, "axis": {"orient": "bottom", "values": [41,40,39,38,37,36,35,34,33,32], "format": "d", "title": "Binding Energy (eV)"}},
       "y": {"field": "y", "type": "quantitative", "scale": {"domain": [0, 100], "nice": false}, "axis": {"values": [0], "title": "Intensity (a.u.)"}},
       "color": {"field": "s", "type": "nominal", "scale": {"domain": ["r","k"], "range": ["#ff0000","#000000"]}, "legend": null}
      }},
     {"data": {"values": [{"t": "W 4f"}]}, "mark": {"type": "text", "align": "left", "fontSize": 27},
      "encoding": {
       "x": {"datum": 40.65, "type": "quantitative", "axis": {"orient": "top", "values": [41,40,39,38,37,36,35,34,33,32], "title": null}},
       "y": {"datum": 85, "type": "quantitative", "axis": {"values": [0], "title": "Intensity (a.u.)"}},
       "text": {"field": "t"}
      }},
     {"data": {"values": [{"t": "b)"}]}, "mark": {"type": "text", "align": "right", "fontSize": 32},
      "encoding": {
       "x": {"datum": 41.38, "type": "quantitative", "axis": null},
       "y": {"datum": 87.5, "type": "quantitative", "axis": {"values": [0], "title": "Intensity (a.u.)"}},
       "text": {"field": "t"}
      }}
    ]
   },
   {
    "width": 371, "height": 223,
    "resolve": {"axis": {"x": "independent"}},
    "layer": [
     {"data": {"name": "D"}, "mark": {"type": "line", "strokeWidth": 2.4},
      "encoding": {
       "x": {"field": "x", "type": "quantitative", "scale": {"domain": [538, 523], "nice": false, "zero": false}, "axis": {"orient": "bottom", "values": [538,536,534,532,530,528,526,524], "format": "d", "title": "Binding Energy (eV)"}},
       "y": {"field": "y", "type": "quantitative", "scale": {"domain": [0, 100], "nice": false}, "axis": {"values": [0], "title": "Intensity (a.u.)"}},
       "color": {"field": "s", "type": "nominal", "scale": {"domain": ["r","k"], "range": ["#ff0000","#000000"]}, "legend": null}
      }},
     {"data": {"values": [{"t": "O 1s"}]}, "mark": {"type": "text", "align": "left", "fontSize": 27},
      "encoding": {
       "x": {"datum": 536.9, "type": "quantitative", "axis": {"orient": "top", "values": [538,536,534,532,530,528,526,524], "title": null}},
       "y": {"datum": 85, "type": "quantitative", "axis": {"values": [0], "title": "Intensity (a.u.)"}},
       "text": {"field": "t"}
      }},
     {"data": {"values": [{"t": "d)"}]}, "mark": {"type": "text", "align": "right", "fontSize": 32},
      "encoding": {
       "x": {"datum": 538.6, "type": "quantitative", "axis": null},
       "y": {"datum": 84.6, "type": "quantitative", "axis": {"values": [0], "title": "Intensity (a.u.)"}},
       "text": {"field": "t"}
      }}
    ]
   },
   {
    "width": 371, "height": 223,
    "resolve": {"axis": {"x": "independent"}},
    "layer": [
     {"data": {"name": "F"}, "mark": {"type": "line", "strokeWidth": 2.4},
      "encoding": {
       "x": {"field": "x", "type": "quantitative", "scale": {"domain": [292, 277], "nice": false, "zero": false}, "axis": {"orient": "bottom", "values": [292,290,288,286,284,282,280,278], "format": "d", "title": "Binding Energy (eV)"}},
       "y": {"field": "y", "type": "quantitative", "scale": {"domain": [0, 100], "nice": false}, "axis": {"values": [0], "title": "Intensity (a.u.)"}},
       "color": {"field": "s", "type": "nominal", "scale": {"domain": ["r","k"], "range": ["#ff0000","#000000"]}, "legend": null}
      }},
     {"data": {"values": [{"t": "Ru 3d"}]}, "mark": {"type": "text", "align": "left", "fontSize": 27},
      "encoding": {
       "x": {"datum": 291.1, "type": "quantitative", "axis": {"orient": "top", "values": [292,290,288,286,284,282,280,278], "title": null}},
       "y": {"datum": 85.4, "type": "quantitative", "axis": {"values": [0], "title": "Intensity (a.u.)"}},
       "text": {"field": "t"}
      }},
     {"data": {"values": [{"t": "f)"}]}, "mark": {"type": "text", "align": "right", "fontSize": 32},
      "encoding": {
       "x": {"datum": 292.6, "type": "quantitative", "axis": null},
       "y": {"datum": 84.6, "type": "quantitative", "axis": {"values": [0], "title": "Intensity (a.u.)"}},
       "text": {"field": "t"}
      }}
    ]
   }
  ]
 }
]
}
